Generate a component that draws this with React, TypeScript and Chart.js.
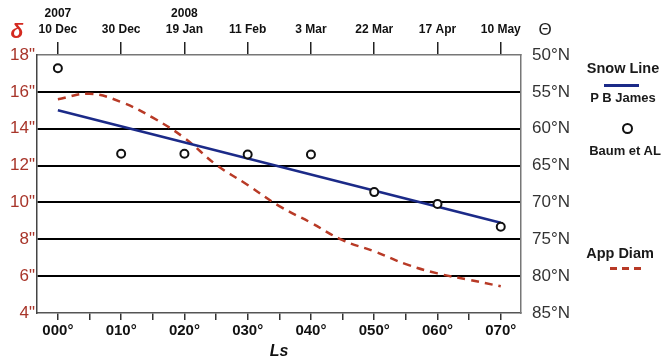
import React, { useEffect, useRef } from 'react';
import { Chart, registerables } from 'chart.js';

Chart.register(...registerables);

const FONT = '"Liberation Sans", Arial, Helvetica, sans-serif';

// Top axis: observation dates (aligned with Ls ticks)
const dateLabels: (string | string[])[] = [
  ['2007', '10 Dec'],
  '30 Dec',
  ['2008', '19 Jan'],
  '11 Feb',
  '3 Mar',
  '22 Mar',
  '17 Apr',
  '10 May',
];
const dateLs = [0, 10, 20, 30, 40, 50, 60, 70];

// Axis ticks
const lsTicks = [0, 5, 10, 15, 20, 25, 30, 35, 40, 45, 50, 55, 60, 65, 70];
const diamTicks = [4, 6, 8, 10, 12, 14, 16, 18];
const latTicks = [50, 55, 60, 65, 70, 75, 80, 85];

// Apparent diameter (arcsec) vs Ls
const diamLs = [0, 5, 10, 15, 20, 25, 30, 35, 40, 45, 50, 55, 60, 65, 70];
const appDiam = [15.6, 15.9, 15.45, 14.6, 13.5, 12.05, 10.95, 9.8, 8.9, 7.95, 7.35, 6.65, 6.15, 5.8, 5.45];

// Snow line (P B James), latitude vs Ls
const snowLs = [0, 70];
const snowLat = [57.5, 72.75];

// Baum et al observations, latitude vs Ls
const baumLs = [0, 10, 20, 30, 40, 50, 60, 70];
const baumLat = [51.8, 63.4, 63.4, 63.5, 63.5, 68.6, 70.2, 73.3];

const LS_MIN = -3.3;
const LS_MAX = 73.2;

const abs = (cx: number, cy: number, extra: React.CSSProperties = {}): React.CSSProperties => ({
  position: 'absolute',
  left: cx,
  top: cy,
  transform: 'translate(-50%, -50%)',
  whiteSpace: 'nowrap',
  lineHeight: 1,
  fontFamily: FONT,
  ...extra,
});

export default function App() {
  const canvasRef = useRef<HTMLCanvasElement | null>(null);

  useEffect(() => {
    document.body.style.margin = '0';
    const canvas = canvasRef.current;
    if (!canvas) return;
    const chart = new Chart(canvas, {
      type: 'line',
      data: {
        datasets: [
          {
            label: 'Baum et AL',
            data: baumLs.map((x, i) => ({ x, y: baumLat[i] })),
            xAxisID: 'x',
            yAxisID: 'y2',
            showLine: false,
            pointStyle: 'circle',
            pointRadius: 4,
            pointBorderWidth: 2,
            pointBorderColor: '#111',
            pointBackgroundColor: '#fff',
            borderColor: '#111',
            backgroundColor: '#fff',
          },
          {
            label: 'P B James',
            data: snowLs.map((x, i) => ({ x, y: snowLat[i] })),
            xAxisID: 'x',
            yAxisID: 'y2',
            borderColor: '#1b2a88',
            borderWidth: 2.5,
            pointRadius: 0,
          },
          {
            label: 'App Diam',
            data: diamLs.map((x, i) => ({ x, y: appDiam[i] })),
            xAxisID: 'x',
            yAxisID: 'y',
            borderColor: '#b83a26',
            borderWidth: 2.5,
            borderDash: [8, 6],
            tension: 0.4,
            pointRadius: 0,
          },
        ],
      },
      options: {
        animation: false,
        responsive: false,
        layout: { padding: 0 },
        plugins: { legend: { display: false }, tooltip: { enabled: false } },
        scales: {
          x: {
            type: 'linear',
            position: 'bottom',
            min: LS_MIN,
            max: LS_MAX,
            afterBuildTicks: (s: any) => {
              s.ticks = lsTicks.map((v) => ({ value: v }));
            },
            afterFit: (s: any) => {
              s.height = 50;
            },
            grid: { drawOnChartArea: false, drawTicks: true, tickLength: 7, color: '#333', lineWidth: 1.5 },
            border: { display: true, color: '#555', width: 1.5 },
            ticks: {
              autoSkip: false,
              maxRotation: 0,
              padding: 2,
              color: '#111',
              font: { family: FONT, size: 15, weight: 'bold' },
              callback: (v: any) => (Number(v) % 10 === 0 ? String(v).padStart(3, '0') + '°' : ''),
            },
            title: {
              display: true,
              text: 'Ls',
              color: '#111',
              padding: { top: 0, bottom: 2 },
              font: { family: FONT, size: 16, weight: 'bold', style: 'italic' },
            },
          },
          x2: {
            type: 'linear',
            position: 'top',
            min: LS_MIN,
            max: LS_MAX,
            afterBuildTicks: (s: any) => {
              s.ticks = dateLs.map((v) => ({ value: v }));
            },
            afterFit: (s: any) => {
              s.height = 55;
            },
            grid: { drawOnChartArea: false, drawTicks: true, tickLength: 13, color: '#222', lineWidth: 1.5 },
            border: { display: true, color: '#777', width: 1.5 },
            ticks: {
              autoSkip: false,
              maxRotation: 0,
              padding: 5,
              color: '#111',
              font: { family: FONT, size: 12, weight: 'bold', lineHeight: 1.3 },
              callback: (_v: any, i: number) => dateLabels[i] as any,
            },
          },
          y: {
            type: 'linear',
            position: 'left',
            min: 4,
            max: 18,
            afterBuildTicks: (s: any) => {
              s.ticks = diamTicks.map((v) => ({ value: v }));
            },
            afterFit: (s: any) => {
              s.width = 37;
            },
            grid: {
              drawTicks: false,
              lineWidth: 2,
              color: (ctx: any) =>
                ctx.tick && (ctx.tick.value === 4 || ctx.tick.value === 18) ? 'rgba(0,0,0,0)' : '#000',
            },
            border: { display: true, color: '#444', width: 1.5 },
            ticks: {
              padding: 2,
              color: '#a8352a',
              font: { family: FONT, size: 17 },
              callback: (v: any) => v + '"',
            },
          },
          y2: {
            type: 'linear',
            position: 'right',
            min: 50,
            max: 85,
            reverse: true,
            afterBuildTicks: (s: any) => {
              s.ticks = latTicks.map((v) => ({ value: v }));
            },
            afterFit: (s: any) => {
              s.width = 142;
            },
            grid: { drawOnChartArea: false, drawTicks: false },
            border: { display: true, color: '#777', width: 1.5 },
            ticks: {
              padding: 11,
              color: '#333',
              font: { family: FONT, size: 17 },
              callback: (v: any) => v + '°N',
            },
          },
        },
      },
    } as any);
    return () => chart.destroy();
  }, []);

  const dash: React.CSSProperties = { position: 'absolute', top: 267, width: 7, height: 3, background: '#b83a26' };

  return (
    <div style={{ position: 'relative', width: 663, height: 363, background: '#fff', overflow: 'hidden' }}>
      <canvas ref={canvasRef} width={663} height={363} style={{ width: 663, height: 363, display: 'block' }} />
      <div style={abs(17, 30, { color: '#d42a20', fontSize: 21, fontWeight: 'bold', fontStyle: 'italic' })}>δ</div>
      <div style={abs(545, 29, { color: '#222', fontSize: 17 })}>Θ</div>
      <div style={abs(623, 68, { color: '#1a1a1a', fontSize: 14.5, fontWeight: 'bold' })}>Snow Line</div>
      <div style={{ position: 'absolute', left: 604, top: 84, width: 35, height: 3, background: '#1b2a88' }} />
      <div style={abs(623, 97, { color: '#1a1a1a', fontSize: 13, fontWeight: 'bold' })}>P B James</div>
      <div
        style={{
          position: 'absolute',
          left: 622,
          top: 123,
          width: 7,
          height: 7,
          border: '2px solid #111',
          borderRadius: '50%',
        }}
      />
      <div style={abs(625, 150, { color: '#1a1a1a', fontSize: 13, fontWeight: 'bold' })}>Baum et AL</div>
      <div style={abs(620, 253, { color: '#1a1a1a', fontSize: 14.5, fontWeight: 'bold' })}>App Diam</div>
      <div style={{ ...dash, left: 610 }} />
      <div style={{ ...dash, left: 622 }} />
      <div style={{ ...dash, left: 634 }} />
    </div>
  );
}
